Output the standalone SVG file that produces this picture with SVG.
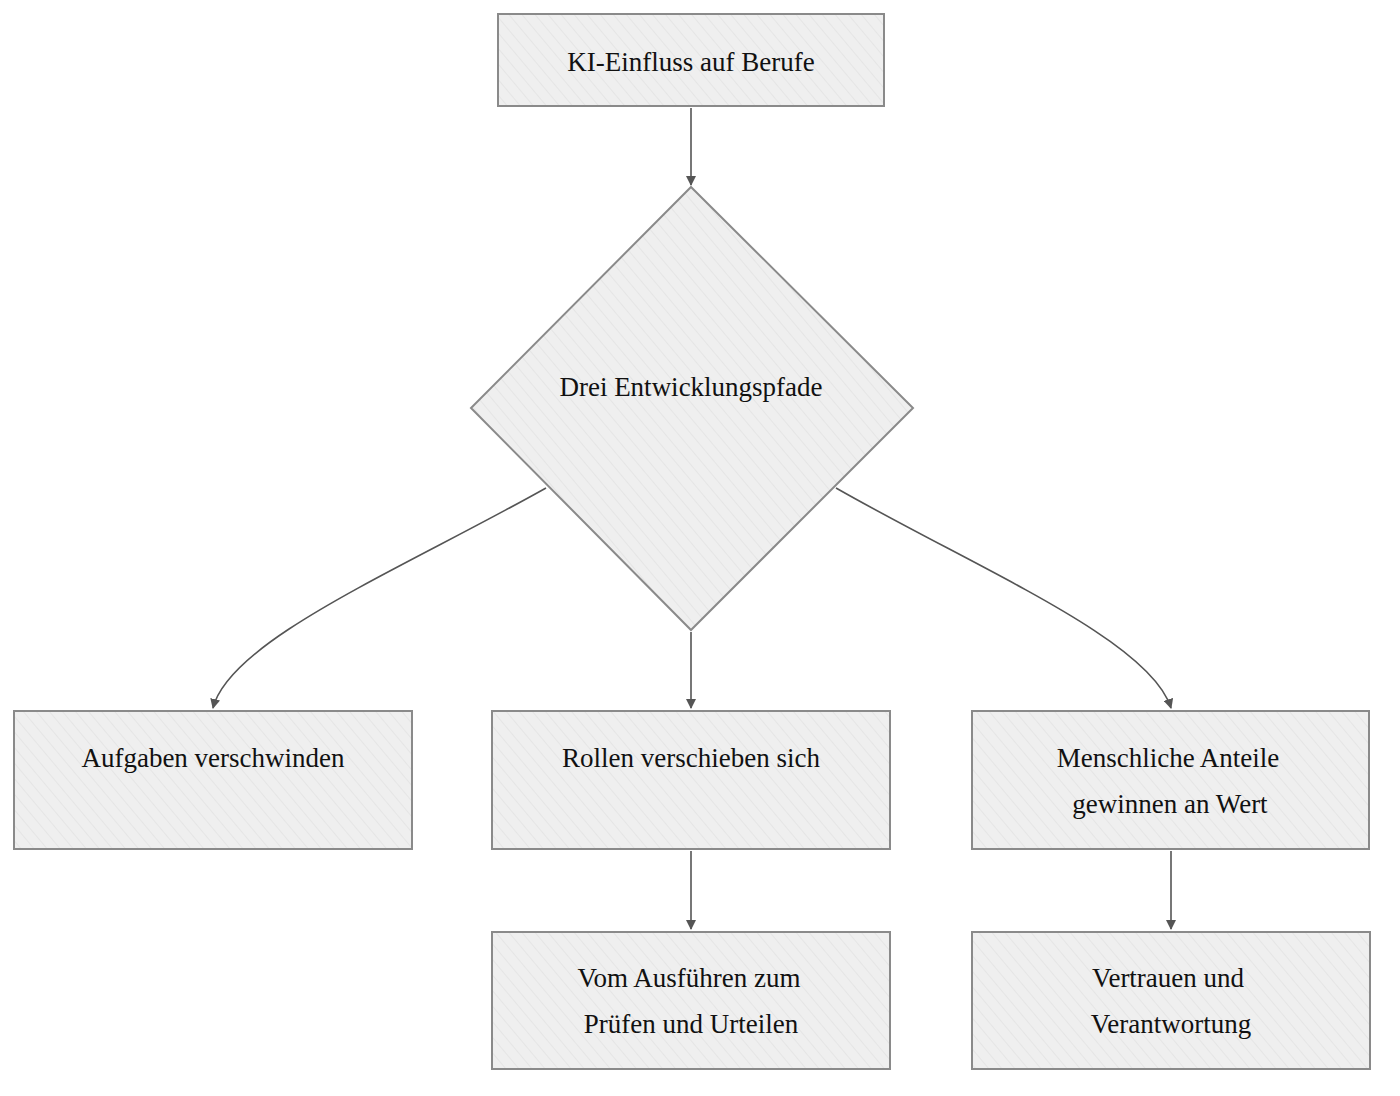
<svg xmlns="http://www.w3.org/2000/svg" width="1400" height="1096" viewBox="0 0 1400 1096">
<style>
.n{fill:url(#h);stroke:#8a8a8a;stroke-width:2}
.t{font-family:"Liberation Serif",serif;font-size:27px;fill:#111;text-anchor:middle}
.c{fill:none;stroke:#555;stroke-width:1.6;marker-end:url(#a)}
</style>
<defs>
<pattern id="h" width="10" height="10" patternUnits="userSpaceOnUse" patternTransform="rotate(-40)">
<rect width="10" height="10" fill="#efefef"/>
<line x1="0" y1="0" x2="0" y2="10" stroke="#e2e2e2" stroke-width="1.5"/>
</pattern>
<marker id="a" markerWidth="10" markerHeight="10" refX="9" refY="5" orient="auto" markerUnits="userSpaceOnUse">
<path d="M0,0 L10,5 L0,10 z" fill="#555"/>
</marker>
</defs>
<g id="connectors">
<path class="c" d="M691,108 L691,185"/>
<path class="c" d="M691,632 L691,708"/>
<path class="c" d="M546,488 C400,570 230,640 213,708"/>
<path class="c" d="M836,488 C980,570 1150,640 1171,708"/>
<path class="c" d="M691,851 L691,929"/>
<path class="c" d="M1171,851 L1171,929"/>
</g>
<g id="n1"><rect class="n" x="498" y="14" width="386" height="92"/><text class="t" x="691" y="71">KI-Einfluss auf Berufe</text></g>
<g id="n2"><polygon class="n" points="691,187 913,408 691,630 471,408"/><text class="t" x="691" y="396">Drei Entwicklungspfade</text></g>
<g id="n3"><rect class="n" x="14" y="711" width="398" height="138"/><text class="t" x="213" y="767">Aufgaben verschwinden</text></g>
<g id="n4"><rect class="n" x="492" y="711" width="398" height="138"/><text class="t" x="691" y="767">Rollen verschieben sich</text></g>
<g id="n5"><rect class="n" x="972" y="711" width="397" height="138"/><text class="t" x="1168" y="767">Menschliche Anteile</text><text class="t" x="1170" y="813">gewinnen an Wert</text></g>
<g id="n6"><rect class="n" x="492" y="932" width="398" height="137"/><text class="t" x="689" y="987">Vom Ausführen zum</text><text class="t" x="691" y="1033">Prüfen und Urteilen</text></g>
<g id="n7"><rect class="n" x="972" y="932" width="398" height="137"/><text class="t" x="1168" y="987">Vertrauen und</text><text class="t" x="1171" y="1033">Verantwortung</text></g>
</svg>
